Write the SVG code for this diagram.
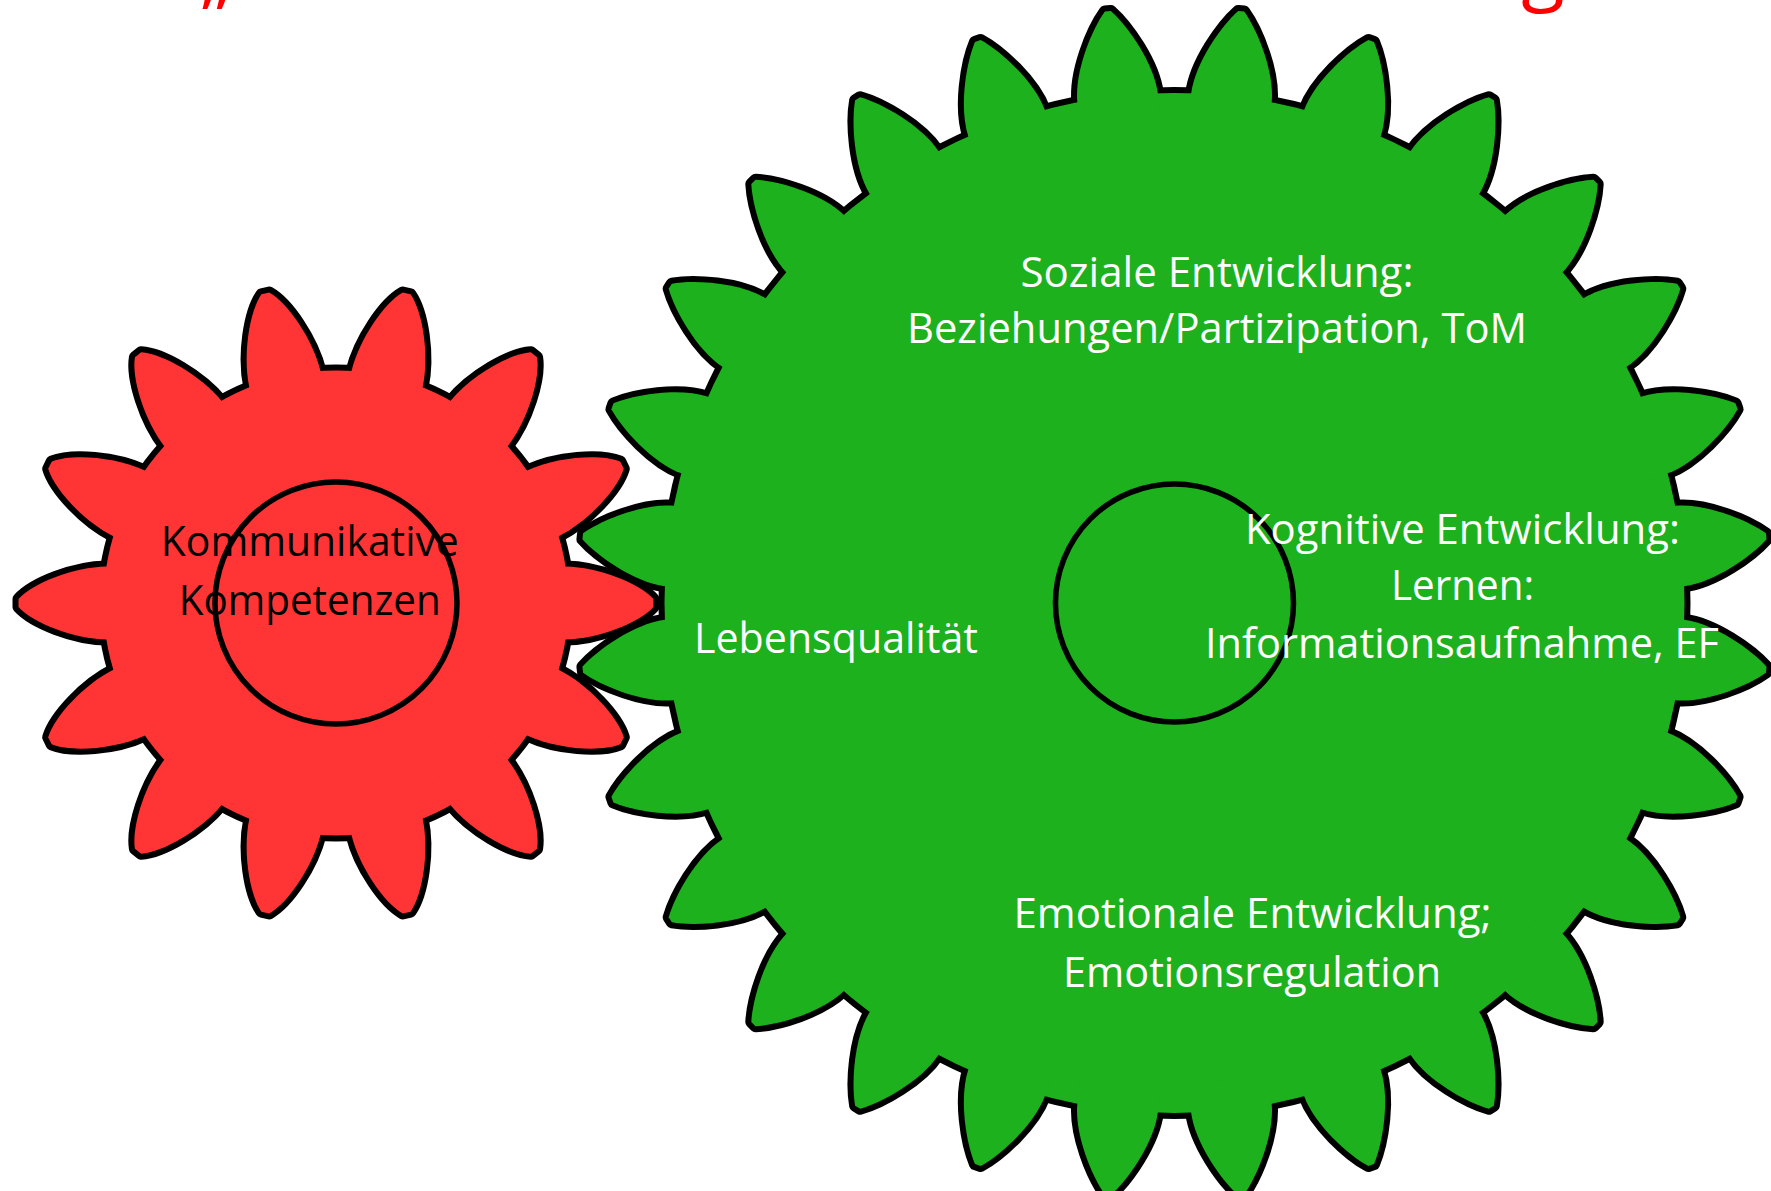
<svg xmlns="http://www.w3.org/2000/svg" xmlns:xlink="http://www.w3.org/1999/xlink" width="1771" height="1191" viewBox="0 0 1771 1191">
  <style>
    .edge { fill: #000; stroke: #000; stroke-width: 12; stroke-linejoin: round; }
    .green { fill: #1DB11D; stroke: none; }
    .red { fill: #FF3434; stroke: none; }
    .hub { fill: none; stroke: #000; stroke-width: 5.5; }
    .lbl { font-family: "Open Sans", "Noto Sans", sans-serif; font-size: 42px; text-anchor: middle; }
    .w { fill: #FFFFFF; }
    .k { fill: #000000; }
    .title { font-family: "Open Sans", "Noto Sans", sans-serif; font-size: 80px; fill: #FF0000; }
  </style>
  <defs>
    <!-- single teeth, pointing along +x from the gear centre -->
    <path id="tooth-g" d="M 480,-40.5 L 508.4,-40.5 C 539,-40 579,-18 595.5,-3 L 595.5,3 C 579,18 539,40 508.4,40.5 L 480,40.5 Z"/>
    <path id="tooth-r" d="M 200,-36.5 L 229.6,-36.5 C 262,-36 303,-20 317.5,-4 L 317.5,4 C 303,20 262,36 229.6,36.5 L 200,36.5 Z"/>
    <!-- large gear: 28 teeth on a root circle -->
    <g id="green-body">
      <circle r="510"/>
      <use xlink:href="#tooth-g" transform="rotate(6.4286)"/>
      <use xlink:href="#tooth-g" transform="rotate(19.2857)"/>
      <use xlink:href="#tooth-g" transform="rotate(32.1429)"/>
      <use xlink:href="#tooth-g" transform="rotate(45)"/>
      <use xlink:href="#tooth-g" transform="rotate(57.8571)"/>
      <use xlink:href="#tooth-g" transform="rotate(70.7143)"/>
      <use xlink:href="#tooth-g" transform="rotate(83.5714)"/>
      <use xlink:href="#tooth-g" transform="rotate(96.4286)"/>
      <use xlink:href="#tooth-g" transform="rotate(109.2857)"/>
      <use xlink:href="#tooth-g" transform="rotate(122.1429)"/>
      <use xlink:href="#tooth-g" transform="rotate(135)"/>
      <use xlink:href="#tooth-g" transform="rotate(147.8571)"/>
      <use xlink:href="#tooth-g" transform="rotate(160.7143)"/>
      <use xlink:href="#tooth-g" transform="rotate(173.5714)"/>
      <use xlink:href="#tooth-g" transform="rotate(186.4286)"/>
      <use xlink:href="#tooth-g" transform="rotate(199.2857)"/>
      <use xlink:href="#tooth-g" transform="rotate(212.1429)"/>
      <use xlink:href="#tooth-g" transform="rotate(225)"/>
      <use xlink:href="#tooth-g" transform="rotate(237.8571)"/>
      <use xlink:href="#tooth-g" transform="rotate(250.7143)"/>
      <use xlink:href="#tooth-g" transform="rotate(263.5714)"/>
      <use xlink:href="#tooth-g" transform="rotate(276.4286)"/>
      <use xlink:href="#tooth-g" transform="rotate(289.2857)"/>
      <use xlink:href="#tooth-g" transform="rotate(302.1429)"/>
      <use xlink:href="#tooth-g" transform="rotate(315)"/>
      <use xlink:href="#tooth-g" transform="rotate(327.8571)"/>
      <use xlink:href="#tooth-g" transform="rotate(340.7143)"/>
      <use xlink:href="#tooth-g" transform="rotate(353.5714)"/>
    </g>
    <!-- small gear: 14 teeth -->
    <g id="red-body">
      <circle r="232.5"/>
      <use xlink:href="#tooth-r" transform="rotate(0)"/>
      <use xlink:href="#tooth-r" transform="rotate(25.7143)"/>
      <use xlink:href="#tooth-r" transform="rotate(51.4286)"/>
      <use xlink:href="#tooth-r" transform="rotate(77.1429)"/>
      <use xlink:href="#tooth-r" transform="rotate(102.8571)"/>
      <use xlink:href="#tooth-r" transform="rotate(128.5714)"/>
      <use xlink:href="#tooth-r" transform="rotate(154.2857)"/>
      <use xlink:href="#tooth-r" transform="rotate(180)"/>
      <use xlink:href="#tooth-r" transform="rotate(205.7143)"/>
      <use xlink:href="#tooth-r" transform="rotate(231.4286)"/>
      <use xlink:href="#tooth-r" transform="rotate(257.1429)"/>
      <use xlink:href="#tooth-r" transform="rotate(282.8571)"/>
      <use xlink:href="#tooth-r" transform="rotate(308.5714)"/>
      <use xlink:href="#tooth-r" transform="rotate(334.2857)"/>
    </g>
  </defs>

  <rect width="1771" height="1191" fill="#FFFFFF"/>

  <!-- heading, only its lowest strokes fall inside the canvas -->
  <g id="title">
    <text class="title" x="200" y="-1">„</text>
    <text class="title" x="1543" y="-5" text-anchor="middle">g</text>
  </g>

  <!-- large green gear -->
  <g id="gear-green">
    <g transform="translate(1174.5,603)">
      <use xlink:href="#green-body" class="edge"/>
      <use xlink:href="#green-body" class="green"/>
      <circle class="hub" r="119"/>
    </g>
    <text class="lbl w" x="1217" y="287" textLength="393" lengthAdjust="spacingAndGlyphs">Soziale Entwicklung:</text>
    <text class="lbl w" x="1217" y="343" textLength="620" lengthAdjust="spacingAndGlyphs">Beziehungen/Partizipation, ToM</text>
    <text class="lbl w" x="1462.5" y="544" textLength="435" lengthAdjust="spacingAndGlyphs">Kognitive Entwicklung:</text>
    <text class="lbl w" x="1462.5" y="600" textLength="143" lengthAdjust="spacingAndGlyphs">Lernen:</text>
    <text class="lbl w" x="1462" y="658" textLength="514" lengthAdjust="spacingAndGlyphs">Informationsaufnahme, EF</text>
    <text class="lbl w" x="836" y="653" textLength="284" lengthAdjust="spacingAndGlyphs">Lebensqualität</text>
    <text class="lbl w" x="1252.5" y="928" textLength="478" lengthAdjust="spacingAndGlyphs">Emotionale Entwicklung;</text>
    <text class="lbl w" x="1252" y="987" textLength="378" lengthAdjust="spacingAndGlyphs">Emotionsregulation</text>
  </g>

  <!-- small red gear -->
  <g id="gear-red">
    <g transform="translate(336,603)">
      <use xlink:href="#red-body" class="edge"/>
      <use xlink:href="#red-body" class="red"/>
      <circle class="hub" r="121"/>
    </g>
    <text class="lbl k" x="309.8" y="556" textLength="298" lengthAdjust="spacingAndGlyphs">Kommunikative</text>
    <text class="lbl k" x="309.8" y="615" textLength="262" lengthAdjust="spacingAndGlyphs">Kompetenzen</text>
  </g>

  <!-- no connectors in this figure -->
  <g id="connectors"/>
</svg>
